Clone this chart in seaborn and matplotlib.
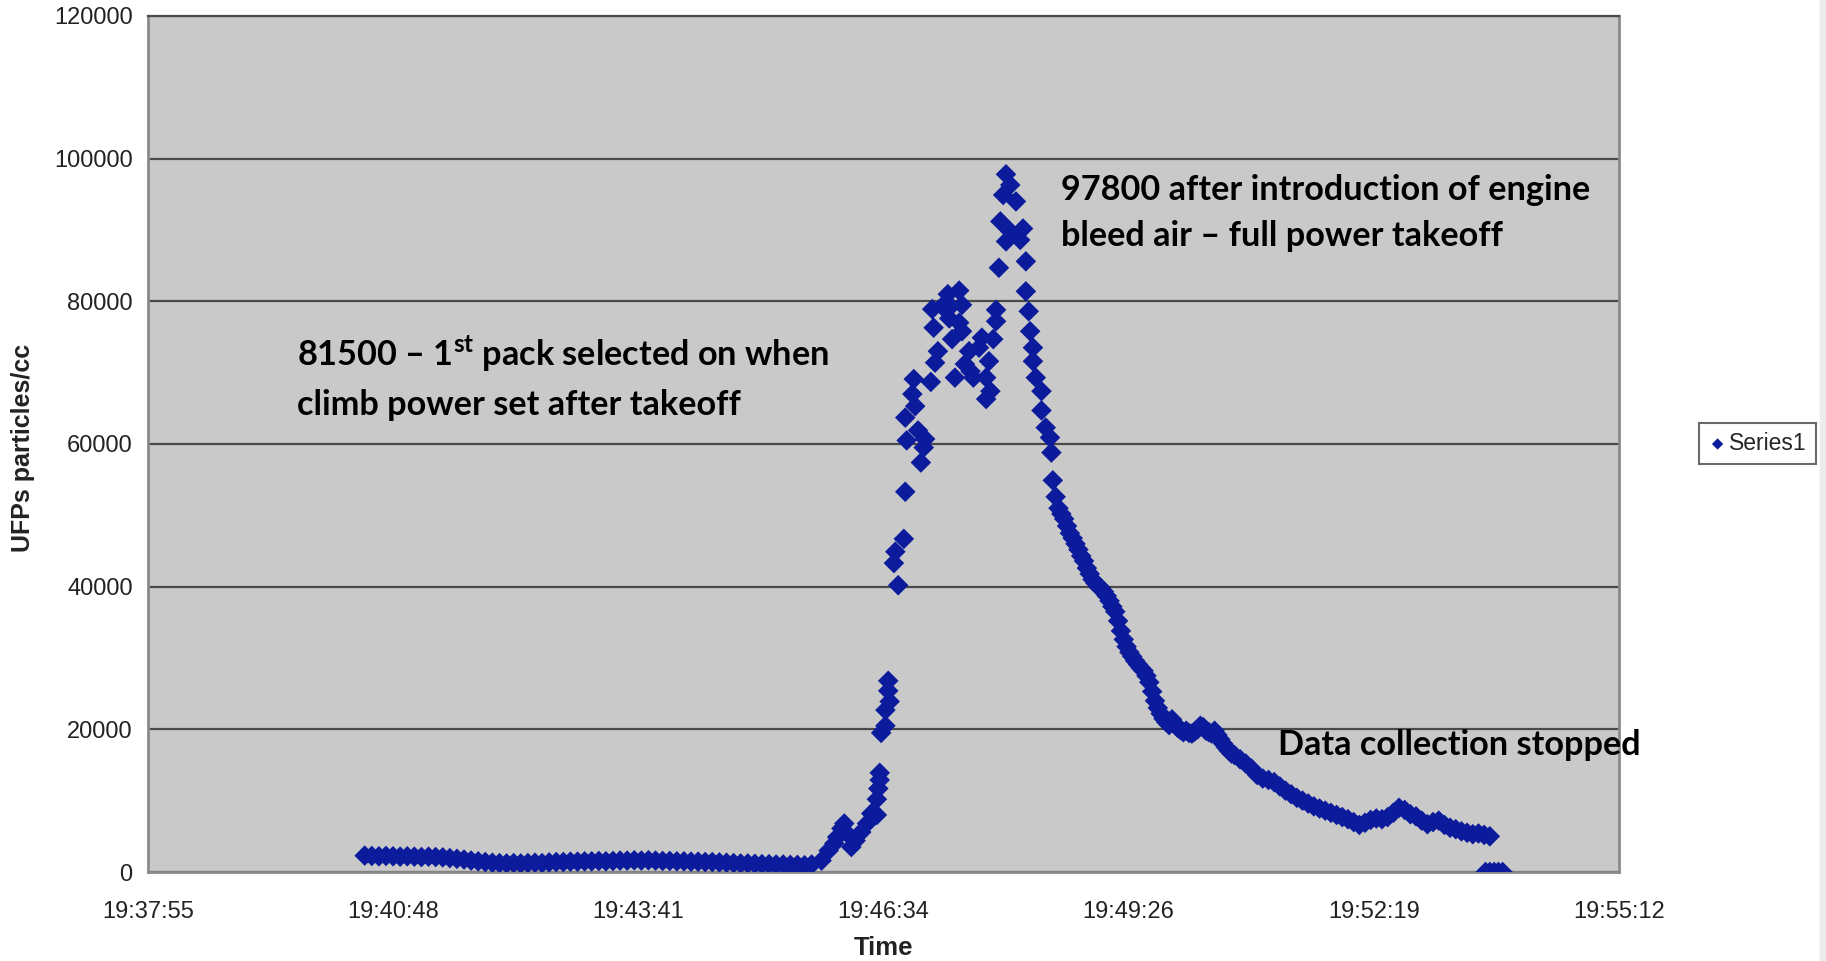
import matplotlib
matplotlib.use("Agg")
import matplotlib.pyplot as plt
import matplotlib.ticker as mticker
from matplotlib.patches import Rectangle
import seaborn as sns
import pandas as pd

# --------------------------------------------------
# DATA
# --------------------------------------------------

# first sample at 19:40:28, offsets below are seconds after that
START_TIME = "19:40:28"

# (seconds after start, UFPs particles/cc)
LOW = [
    (0, 2300), (5, 2250), (10, 2200), (15, 2250), (20, 2200), (25, 2150),
    (30, 2200), (35, 2150), (40, 2100), (45, 2150), (50, 2100), (55, 2050),
    (60, 1950), (65, 1850), (70, 1750), (75, 1600), (80, 1500), (85, 1400),
    (90, 1300), (95, 1250), (100, 1200), (105, 1250), (110, 1200), (115, 1250),
    (120, 1300), (125, 1250), (130, 1350), (135, 1400), (140, 1400), (145, 1450),
    (150, 1450), (155, 1500), (160, 1500), (165, 1550), (170, 1500), (175, 1550),
    (180, 1600), (185, 1600), (190, 1650), (195, 1600), (200, 1650), (205, 1600),
    (210, 1550), (215, 1550), (220, 1500), (225, 1500), (230, 1450), (235, 1450),
    (240, 1400), (245, 1400), (250, 1350), (255, 1300), (260, 1250), (265, 1200),
    (270, 1200), (275, 1150), (280, 1100), (285, 1100), (290, 1050), (295, 1050),
    (300, 1000), (305, 1000), (310, 950), (315, 1050),
]

RISE = [
    (322, 1600), (327, 3000), (331, 4000), (333, 4900), (336, 6100), (338, 6800),
    (340, 5400), (343, 3500), (346, 4400), (350, 5600), (354, 6800), (357, 8200),
    (361, 8000), (361, 10200), (362, 11700), (363, 12900), (363, 13900),
    (364, 19500), (367, 20500), (367, 22700), (370, 23900), (369, 25400),
    (369, 26800),
]

PEAK = [
    (376, 40200), (373, 43300), (374, 44900), (380, 46700), (381, 53300),
    (382, 60500), (381, 63700), (386, 67000), (387, 69100), (388, 65300),
    (390, 61900), (392, 57400), (394, 59500), (395, 60700), (399, 68700),
    (402, 71400), (401, 76300), (400, 78900), (404, 73000), (411, 81000),
    (419, 81500), (407, 79300), (413, 79300), (421, 79500), (412, 77600),
    (414, 74700), (419, 77000), (421, 75800), (416, 69300), (423, 71200),
    (426, 73000), (427, 70200), (429, 69300), (433, 73500), (435, 74900),
    (440, 71600), (438, 69300), (441, 67400), (438, 66300), (443, 74700),
    (445, 77200), (445, 78800), (447, 84700), (448, 91200), (450, 94900),
    (452, 97800), (452, 88400), (455, 96300), (455, 89800), (459, 94000),
    (462, 88600), (464, 90200), (466, 85600), (466, 81400), (468, 78600),
    (469, 75800), (471, 73500), (471, 71600), (473, 69300), (477, 67400),
    (477, 64700), (480, 62300), (483, 60900), (484, 58800), (485, 54900),
    (487, 52600),
]

DECAY = [
    (489, 51000), (491, 50200), (493, 49500), (495, 48500), (497, 47500),
    (499, 46800), (501, 46000), (503, 45200), (505, 44300), (507, 43600),
    (509, 42600), (511, 41800), (513, 41000), (515, 40500), (517, 40000),
    (519, 39800), (521, 39300), (523, 38700), (525, 38000), (527, 37200),
    (529, 36500), (531, 35200), (533, 33800), (535, 32600), (537, 31600),
    (539, 30800), (541, 30200), (543, 29600), (545, 29100), (547, 28600),
    (549, 28200), (551, 27500), (553, 26600), (555, 25300), (557, 24000),
    (559, 23000), (561, 22200), (563, 21500), (565, 21000), (567, 20600),
    (569, 21400), (571, 20800), (573, 20200), (575, 19900), (577, 19600),
    (579, 19800), (581, 19500), (583, 19400), (585, 19700), (587, 20000),
    (589, 20500), (591, 20300), (593, 19800), (595, 19600), (597, 19400),
    (599, 19800), (601, 19200), (603, 18600), (605, 18000), (607, 17500),
    (609, 17000), (611, 16600),
]

TAIL = [
    (613, 16400), (617, 15800), (621, 15200), (625, 14500), (629, 13600),
    (633, 13100), (637, 12900), (641, 12600), (645, 12000), (649, 11400),
    (653, 10900), (657, 10400), (661, 10000), (665, 9600), (669, 9200),
    (673, 8900), (677, 8600), (681, 8300), (685, 8000), (689, 7700),
    (693, 7400), (697, 7000), (701, 6600), (705, 6900), (709, 7300),
    (713, 7500), (717, 7400), (721, 7700), (725, 8300), (729, 9000),
    (733, 8700), (737, 8100), (741, 7800), (745, 7200), (749, 6700),
    (753, 7000), (757, 7200), (761, 6600), (765, 6200), (769, 6000),
    (773, 5700), (777, 5500), (781, 5300), (785, 5400), (789, 5200),
    (793, 5000),
]

# instrument switched off
STOPPED = [(790, 0), (793, 0), (796, 0), (799, 0), (802, 0)]

Y_TICKS = [0, 20000, 40000, 60000, 80000, 100000, 120000]
# excel date axis: ticks every 0.002 day
X_TICK_DAYS = [0.818, 0.820, 0.822, 0.824, 0.826, 0.828, 0.830]
X_TICK_LABELS = ["19:37:55", "19:40:48", "19:43:41", "19:46:34",
                 "19:49:26", "19:52:19", "19:55:12"]

NOTE_TAKEOFF = "97800 after introduction of engine\nbleed air \u2013 full power takeoff"
NOTE_PACK = "81500 \u2013 1$^{\\mathbf{st}}$ pack selected on when\nclimb power set after takeoff"
NOTE_STOP = "Data collection stopped"

# --------------------------------------------------
# BUILD FRAME
# --------------------------------------------------

h, m, s = (int(p) for p in START_TIME.split(":"))
start_sec = h * 3600 + m * 60 + s

rows = LOW + RISE + PEAK + DECAY + TAIL + STOPPED
df = pd.DataFrame(rows, columns=["offset", "ufp"])
df["sec"] = start_sec + df["offset"]

# --------------------------------------------------
# PLOT
# --------------------------------------------------

sns.set_style("white")
plt.rcParams["font.family"] = ["Liberation Sans", "DejaVu Sans"]
plt.rcParams["mathtext.fontset"] = "custom"
plt.rcParams["mathtext.bf"] = "Lato:bold"
plt.rcParams["mathtext.rm"] = "Lato:bold"

fig = plt.figure(figsize=(18.26, 9.61), dpi=100)
ax = fig.add_axes([0.081, 0.0926, 0.8056, 0.8908])
ax.set_facecolor("#c9c9c9")

sns.scatterplot(data=df, x="sec", y="ufp", marker="D", s=110, color="#0b1b9c",
                edgecolor="none", linewidth=0, ax=ax, label="Series1", zorder=3)

ax.set_xlim(X_TICK_DAYS[0] * 86400, X_TICK_DAYS[-1] * 86400)
ax.set_ylim(Y_TICKS[0], Y_TICKS[-1])
ax.set_xticks([d * 86400 for d in X_TICK_DAYS])
ax.set_xticklabels(X_TICK_LABELS)
ax.set_yticks(Y_TICKS)
ax.yaxis.set_major_formatter(mticker.FuncFormatter(lambda v, p: f"{int(v)}"))

ax.yaxis.grid(True, color="#4a4a4a", linewidth=1.6)
ax.xaxis.grid(False)
ax.set_axisbelow(True)

for side in ["left", "bottom", "right"]:
    ax.spines[side].set_visible(True)
    ax.spines[side].set_color("#8a8a8a")
    ax.spines[side].set_linewidth(2)
ax.spines["top"].set_color("#4a4a4a")
ax.spines["top"].set_linewidth(1.6)

ax.tick_params(axis="both", direction="out", length=6, width=1.5, color="#6a6a6a",
               labelsize=17, labelcolor="#222222")
ax.tick_params(axis="x", pad=15)
ax.tick_params(axis="y", pad=5)

ax.set_xlabel("Time", fontsize=18.5, fontweight="bold", color="#222222")
ax.set_ylabel("UFPs particles/cc", fontsize=18, fontweight="bold", color="#222222")
ax.xaxis.set_label_coords(0.5, -0.075)
ax.yaxis.set_label_coords(-0.077, 0.495)

leg = ax.legend(loc="center", bbox_to_anchor=(0.9625, 0.5385), bbox_transform=fig.transFigure,
                frameon=True, fancybox=False, fontsize=16.5, markerscale=0.55,
                handlelength=0.8, handletextpad=0.1, borderpad=0.4)
leg.get_frame().set_edgecolor("#444444")
leg.get_frame().set_linewidth(1.5)

note_style = dict(fontsize=24.7, fontweight="bold", family=["Lato", "DejaVu Sans"],
                  color="black", transform=ax.transAxes, va="center", ha="left",
                  linespacing=1.55, clip_on=False, zorder=5)
ax.text(0.6207, 0.770, NOTE_TAKEOFF, **note_style)
ax.text(0.1013, 0.578, NOTE_PACK, **note_style)
ax.text(0.768, 0.148, NOTE_STOP, **note_style)

# light strip at the far right edge of the slide
fig.patches.append(Rectangle((0.9967, 0), 0.0033, 1, transform=fig.transFigure,
                             color="#ececec", zorder=0))

fig.savefig("out.png", dpi=100)
plt.close(fig)
